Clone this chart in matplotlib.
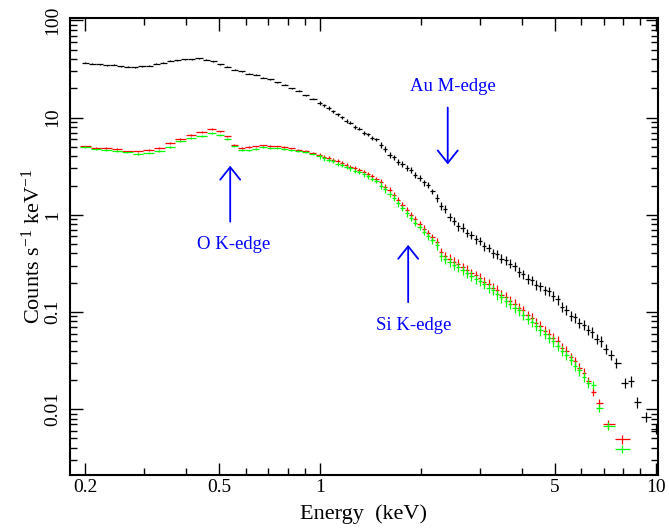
import numpy as np
import matplotlib
matplotlib.use('Agg')
import matplotlib.pyplot as plt
from matplotlib.ticker import FixedLocator, FixedFormatter, NullFormatter

plt.rcParams['font.family'] = ['Liberation Serif', 'DejaVu Serif']
plt.rcParams['mathtext.fontset'] = 'custom'
plt.rcParams['mathtext.rm'] = 'Liberation Serif'
plt.rcParams['mathtext.it'] = 'Liberation Serif:italic'

# Datos del espectro (energia en keV, cuentas s^-1 keV^-1)
e_black = [0.200, 0.210, 0.221, 0.232, 0.243, 0.255, 0.268, 0.281, 0.295, 0.310,
           0.325, 0.341, 0.358, 0.376, 0.395, 0.415, 0.436, 0.458, 0.481, 0.505,
           0.530, 0.557, 0.585, 0.614, 0.645, 0.677, 0.711, 0.746, 0.784, 0.823,
           0.864, 0.907, 0.953,
           1.00, 1.03, 1.06, 1.09, 1.13, 1.16, 1.20, 1.23, 1.27, 1.31, 1.35, 1.39,
           1.43, 1.47, 1.52, 1.56, 1.61, 1.66, 1.71, 1.76, 1.81, 1.87, 1.92, 1.98,
           2.04, 2.10, 2.16, 2.23, 2.29, 2.36, 2.43, 2.51, 2.58, 2.66, 2.74, 2.82,
           2.91, 2.99, 3.08, 3.18, 3.27, 3.37, 3.47, 3.58, 3.68, 3.80, 3.91, 4.03,
           4.15, 4.27, 4.40, 4.53, 4.67, 4.81, 4.95, 5.10, 5.26, 5.41, 5.58, 5.74,
           5.92, 6.10, 6.28, 6.47, 6.66, 6.86, 7.10, 7.35, 7.63, 8.10, 8.42, 8.80,
           9.33, 10.0]
c_black = [36.6, 35.8, 35.4, 34.7, 34.9, 33.8, 33.5, 33.0, 33.6, 34.1,
           35.7, 36.6, 38.4, 39.0, 39.9, 40.1, 40.8, 39.6, 38.2, 35.5,
           33.2, 31.0, 30.1, 28.4, 27.5, 25.8, 24.8, 23.1, 21.9, 20.1,
           18.9, 16.9, 15.7,
           14.2, 13.4, 12.6, 11.6, 10.8, 10.1, 9.2, 8.9, 8.0, 7.7, 6.95, 6.75,
           6.2, 6.0, 5.2, 4.75, 4.1, 3.9, 3.5, 3.35, 3.05, 2.88, 2.55, 2.40,
           2.15, 2.05, 1.74, 1.49, 1.24, 1.15, 0.96, 0.87, 0.76, 0.74, 0.65, 0.62,
           0.56, 0.54, 0.475, 0.455, 0.40, 0.395, 0.355, 0.34, 0.315, 0.295, 0.26, 0.245,
           0.22, 0.213, 0.19, 0.185, 0.168, 0.163, 0.147, 0.135, 0.113, 0.105, 0.091, 0.088,
           0.077, 0.074, 0.066, 0.062, 0.053, 0.050, 0.042, 0.036, 0.030, 0.0186, 0.0194, 0.0118,
           0.0083, 0.0063]
relerr_black = [0.012]*33 + [0.04]*14 + [0.07]*13 + [0.10]*13 + [0.11]*15 + [0.12]*11 + [0.12]*8

e_rg = [0.200, 0.215, 0.231, 0.248, 0.267, 0.287, 0.309, 0.332, 0.357, 0.384,
        0.413, 0.444, 0.477, 0.505, 0.530, 0.556, 0.584, 0.613, 0.644, 0.676,
        0.710, 0.745, 0.782, 0.821, 0.862, 0.905, 0.950,
        1.00, 1.03, 1.06, 1.09, 1.13, 1.16, 1.20, 1.23, 1.27, 1.31, 1.35, 1.39,
        1.43, 1.47, 1.52, 1.56, 1.61, 1.66, 1.71, 1.76, 1.81, 1.87, 1.92, 1.98,
        2.04, 2.10, 2.16, 2.23, 2.29, 2.36, 2.43, 2.51, 2.58, 2.66, 2.74, 2.82,
        2.91, 2.99, 3.08, 3.18, 3.27, 3.37, 3.47, 3.58, 3.68, 3.80, 3.91, 4.03,
        4.15, 4.27, 4.40, 4.53, 4.67, 4.81, 4.95, 5.10, 5.26, 5.41, 5.58, 5.74,
        5.92, 6.10, 6.28, 6.50, 6.75, 7.20, 7.95]
c_red = [5.06, 4.92, 4.85, 4.72, 4.49, 4.49, 4.62, 4.90, 5.45, 6.05,
         6.60, 7.10, 7.63, 7.20, 6.40, 5.20, 4.85, 4.95, 5.05, 5.18,
         5.10, 5.06, 4.95, 4.82, 4.67, 4.55, 4.35,
         4.15, 3.95, 3.85, 3.70, 3.55, 3.38, 3.28, 3.12, 3.02, 2.88, 2.78, 2.60,
         2.50, 2.34, 2.15, 1.92, 1.78, 1.58, 1.42, 1.25, 1.12, 0.99, 0.90, 0.80,
         0.72, 0.65, 0.585, 0.52, 0.41, 0.375, 0.355, 0.33, 0.315, 0.29, 0.272, 0.252,
         0.238, 0.225, 0.205, 0.196, 0.178, 0.168, 0.150, 0.142, 0.130, 0.122, 0.110, 0.104,
         0.092, 0.087, 0.077, 0.072, 0.064, 0.060, 0.054, 0.050, 0.043, 0.040, 0.034, 0.031,
         0.0265, 0.0235, 0.0195, 0.0150, 0.0116, 0.0070, 0.0049]
c_green = [4.95, 4.70, 4.62, 4.55, 4.39, 4.22, 4.30, 4.50, 4.95, 5.70,
           6.20, 6.50, 6.95, 6.68, 6.07, 5.06, 4.67, 4.60, 4.75, 4.95,
           4.90, 4.85, 4.72, 4.60, 4.55, 4.40, 4.25,
           3.99, 3.80, 3.66, 3.55, 3.36, 3.25, 3.08, 3.00, 2.83, 2.76, 2.60, 2.48,
           2.33, 2.24, 2.00, 1.84, 1.64, 1.50, 1.31, 1.18, 1.04, 0.93, 0.83, 0.75,
           0.67, 0.60, 0.545, 0.485, 0.375, 0.350, 0.328, 0.305, 0.290, 0.268, 0.250, 0.236,
           0.218, 0.208, 0.193, 0.178, 0.168, 0.152, 0.142, 0.129, 0.122, 0.111, 0.104, 0.094,
           0.085, 0.079, 0.072, 0.065, 0.060, 0.054, 0.050, 0.045, 0.040, 0.036, 0.032, 0.028,
           0.025, 0.0215, 0.0185, 0.0177, 0.0103, 0.0067, 0.0039]
relerr_rg = [0.02]*27 + [0.05]*14 + [0.08]*13 + [0.11]*13 + [0.12]*15 + [0.12]*7 + [0.10]*5

xticks_major = [0.2, 0.5, 1, 5, 10]
xticks_minor = [0.3, 0.4, 0.6, 0.7, 0.8, 0.9, 2, 3, 4, 6, 7, 8, 9]
yticks_major = [0.01, 0.1, 1, 10, 100]
ytick_labels = ['0.01', '0.1', '1', '10', '100']


def bin_halfwidths(e):
    # limites de canal como media geometrica entre vecinos
    e = np.asarray(e)
    mid = np.sqrt(e[1:]*e[:-1])
    lo = np.concatenate(([e[0]**2/mid[0]], mid))
    hi = np.concatenate((mid, [e[-1]**2/mid[-1]]))
    return np.vstack((e - lo, hi - e))


def plot_spec(ax, e, c, relerr, color):
    c = np.asarray(c)
    ax.errorbar(e, c, xerr=bin_halfwidths(e), yerr=c*np.asarray(relerr),
                fmt='none', ecolor=color, elinewidth=0.9, capsize=0)


fig = plt.figure(figsize=(6.69, 5.29), dpi=100)
ax = fig.add_axes([70/669, 54/529, 588/669, 457/529])

plot_spec(ax, e_black, c_black, relerr_black, 'black')
plot_spec(ax, e_rg, c_red, relerr_rg, '#ff0000')
plot_spec(ax, e_rg, c_green, relerr_rg, '#00ff00')

ax.set_xscale('log')
ax.set_yscale('log')
ax.set_xlim(0.18, 10.15)
ax.set_ylim(0.0021, 106)

ax.xaxis.set_major_locator(FixedLocator(xticks_major))
ax.xaxis.set_major_formatter(FixedFormatter(['0.2', '0.5', '1', '5', '10']))
ax.xaxis.set_minor_locator(FixedLocator(xticks_minor))
ax.xaxis.set_minor_formatter(NullFormatter())
ax.yaxis.set_major_locator(FixedLocator(yticks_major))
ax.yaxis.set_major_formatter(FixedFormatter(ytick_labels))
ax.yaxis.set_minor_locator(FixedLocator([k*10.0**p for p in range(-3, 2) for k in range(2, 10)]))
ax.yaxis.set_minor_formatter(NullFormatter())

ax.tick_params(which='both', direction='in', top=True, right=True, width=1.0)
ax.tick_params(which='major', length=9)
ax.tick_params(which='minor', length=5)
ax.tick_params(axis='x', labelsize=14, pad=3)
ax.tick_params(axis='y', labelsize=14, pad=6, labelrotation=90)
for lab in ax.get_yticklabels():
    lab.set_va('center')
for s in ax.spines.values():
    s.set_linewidth(1.5)

ax.set_xlabel('Energy  (keV)', fontsize=16, labelpad=6)
ax.set_ylabel(r'Counts s$^{\mathrm{-1}}$ keV$^{\mathrm{-1}}$', fontsize=16, labelpad=0)

# Anotaciones de bordes de absorcion
arrow = dict(arrowstyle='->, head_length=0.5, head_width=0.4', color='blue',
             lw=1.3, mutation_scale=18, shrinkA=0, shrinkB=0)
ax.annotate('', xy=(2.40, 3.3), xytext=(2.40, 12.7), arrowprops=arrow)
ax.text(2.48, 20.9, 'Au M-edge', color='blue', fontsize=13.5, ha='center', va='center')
ax.annotate('', xy=(0.54, 3.2), xytext=(0.54, 0.85), arrowprops=arrow)
ax.text(0.551, 0.50, 'O K-edge', color='blue', fontsize=13.5, ha='center', va='center')
ax.annotate('', xy=(1.83, 0.49), xytext=(1.83, 0.126), arrowprops=arrow)
ax.text(1.905, 0.0718, 'Si K-edge', color='blue', fontsize=13.5, ha='center', va='center')

fig.savefig('out.png', dpi=100)
